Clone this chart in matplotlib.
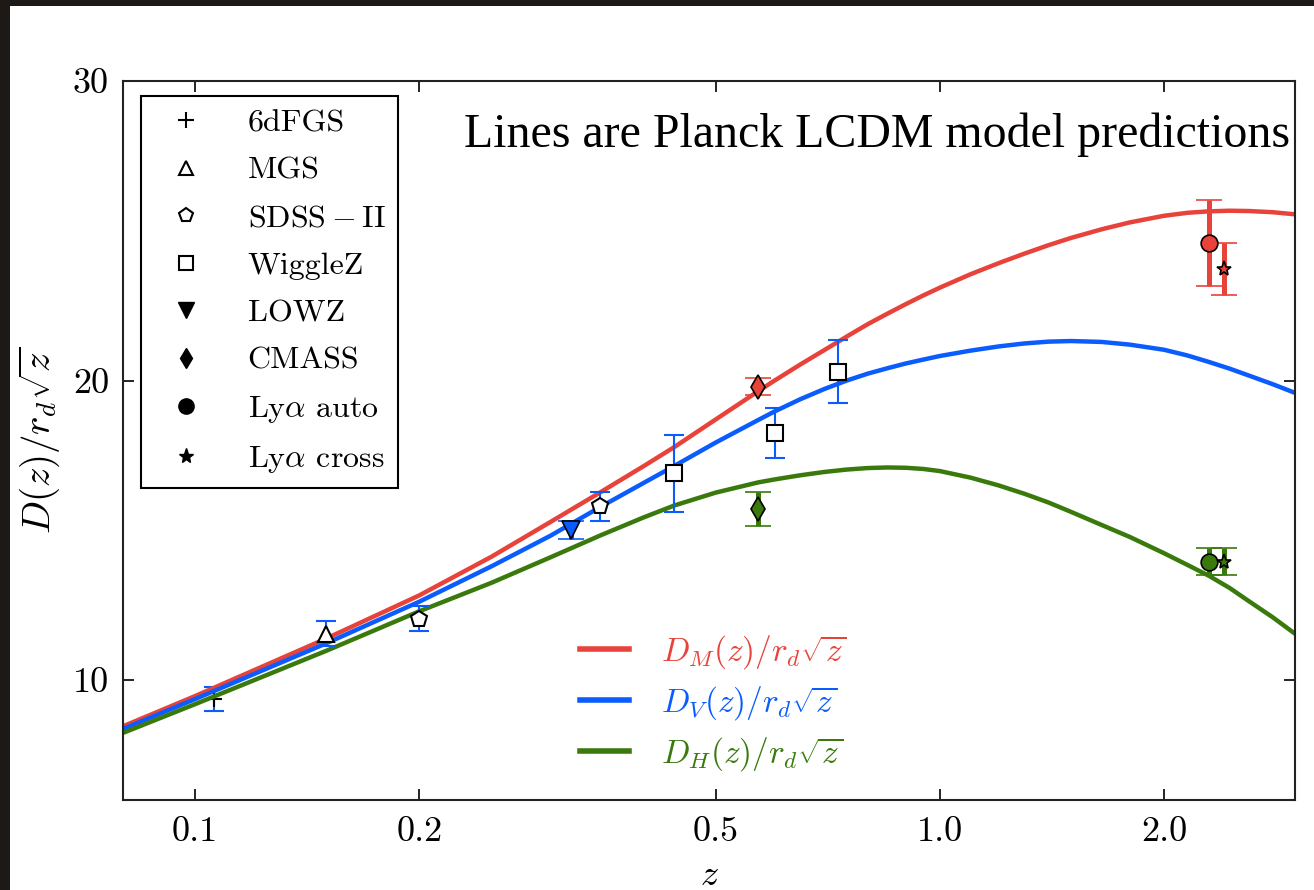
import numpy as np
import matplotlib
matplotlib.use('Agg')
from matplotlib import pylab as plt
from matplotlib.lines import Line2D
from matplotlib.patches import Rectangle
from matplotlib.ticker import FixedLocator, FixedFormatter, NullLocator

plt.rcParams['font.family'] = 'cmr10'
plt.rcParams['mathtext.fontset'] = 'cm'
plt.rcParams['axes.formatter.use_mathtext'] = True

# Planck LCDM model curves
z_model  = [0.08, 0.1, 0.15, 0.2, 0.25, 0.3, 0.35, 0.4, 0.44, 0.5, 0.57, 0.6, 0.65, 0.7,
            0.75, 0.8, 0.85, 0.9, 0.95, 1.0, 1.1, 1.2, 1.3, 1.4, 1.5, 1.65, 1.8, 2.0,
            2.15, 2.3, 2.45, 2.6, 2.8, 3.0]
dm_model = [8.46, 9.47, 11.39, 12.83, 14.12, 15.28, 16.27, 17.14, 17.78, 18.7, 19.64, 20.0,
            20.54, 21.02, 21.47, 21.88, 22.23, 22.55, 22.84, 23.1, 23.55, 23.92, 24.24,
            24.52, 24.76, 25.05, 25.28, 25.5, 25.6, 25.65, 25.67, 25.66, 25.62, 25.55]
dv_model = [8.37, 9.37, 11.23, 12.62, 13.8, 14.82, 15.78, 16.58, 17.15, 17.93, 18.68, 18.97,
            19.38, 19.72, 20.0, 20.23, 20.41, 20.57, 20.7, 20.82, 21.0, 21.14, 21.24,
            21.3, 21.32, 21.29, 21.2, 21.03, 20.84, 20.62, 20.4, 20.17, 19.88, 19.59]
dh_model = [8.24, 9.2, 10.98, 12.3, 13.25, 14.1, 14.83, 15.43, 15.83, 16.26, 16.6, 16.7,
            16.84, 16.95, 17.03, 17.08, 17.1, 17.09, 17.05, 16.98, 16.76, 16.5, 16.22,
            15.93, 15.62, 15.18, 14.78, 14.24, 13.85, 13.48, 13.08, 12.64, 12.1, 11.55]

# BAO measurements
sixdf_z, sixdf_dv, sixdf_err = [0.106], [9.37], [0.41]
mgs_z, mgs_dv, mgs_err = [0.15], [11.55], [0.42]
sdss_z, sdss_dv, sdss_err = [0.2, 0.35], [12.05, 15.8], [0.42, 0.48]
wig_z, wig_dv, wig_err = [0.44, 0.6, 0.73], [16.9, 18.25, 20.3], [1.28, 0.85, 1.05]
lowz_z, lowz_dv, lowz_err = [0.32], [15.0], [0.3]
cmass_z = [0.57]
cmass_dm, cmass_dm_err = [19.8], [0.28]
cmass_dh, cmass_dh_err = [15.7], [0.57]
auto_z = [2.30]
auto_dm, auto_dm_err = [24.6], [1.43]
auto_dh, auto_dh_err = [13.95], [0.45]
cross_z = [2.41]
cross_dm, cross_dm_err = [23.73], [0.87]
cross_dh, cross_dh_err = [13.95], [0.45]

red = '#e8433a'
blue = '#0a5cff'
green = '#3a7a0c'

fig = plt.figure(figsize=(13.14, 8.90), dpi=100)
fig.patch.set_facecolor('#1c1917')
fig.patches.append(Rectangle((10/1314, 0), 1, 884/890, transform=fig.transFigure,
                             facecolor='white', edgecolor='none', zorder=-10))
ax = fig.add_axes([123/1314, 90/890, 1172/1314, 719/890])

ax.plot(z_model, dm_model, color=red, lw=3.2, zorder=2)
ax.plot(z_model, dv_model, color=blue, lw=3.2, zorder=2)
ax.plot(z_model, dh_model, color=green, lw=3.2, zorder=2)

thin = dict(ecolor=blue, elinewidth=1.5, capsize=7.2, capthick=1.5, mec='k', mew=1.5, ls='none')
ax.errorbar(sixdf_z, sixdf_dv, yerr=sixdf_err, fmt='+', color='k', ms=12, zorder=1, **thin)
ax.errorbar(mgs_z, mgs_dv, yerr=mgs_err, fmt='^', mfc='white', ms=11, zorder=4, **thin)
ax.errorbar(sdss_z, sdss_dv, yerr=sdss_err, fmt='p', mfc='white', ms=12, zorder=4, **thin)
ax.errorbar(wig_z, wig_dv, yerr=wig_err, fmt='s', mfc='white', ms=12, zorder=4, **thin)

def thick(z, y, e, m, c, ms):
    ax.errorbar(z, y, yerr=e, fmt=m, ecolor=c, mfc=c, mec='k', mew=1.2, ms=ms,
                elinewidth=3.6, capsize=9.7, capthick=3.6, ls='none', zorder=4)

thick(lowz_z, lowz_dv, lowz_err, 'v', blue, 13)
thick(cmass_z, cmass_dm, cmass_dm_err, 'd', red, 12)
thick(cmass_z, cmass_dh, cmass_dh_err, 'd', green, 12)
thick(auto_z, auto_dm, auto_dm_err, 'o', red, 12)
thick(auto_z, auto_dh, auto_dh_err, 'o', green, 12)
thick(cross_z, cross_dm, cross_dm_err, '*', red, 11)
thick(cross_z, cross_dh, cross_dh_err, '*', green, 11)

ax.set_xscale('log')
ax.set_xlim(0.08, 3.0)
ax.set_ylim(6, 30)
ax.xaxis.set_major_locator(FixedLocator([0.1, 0.2, 0.5, 1.0, 2.0]))
ax.xaxis.set_major_formatter(FixedFormatter(['0.1', '0.2', '0.5', '1.0', '2.0']))
ax.xaxis.set_minor_locator(NullLocator())
ax.set_yticks([10, 20, 30])
ax.set_yticklabels(['10', '20', '30'])
ax.tick_params(direction='in', length=8, width=1.2, top=True, right=True, labelsize=26)
ax.tick_params(axis='x', pad=12)
ax.tick_params(axis='y', pad=10)
for s in ax.spines.values():
    s.set_linewidth(1.5)
    s.set_color('#222222')

ax.set_xlabel('$z$', fontsize=26)
ax.xaxis.set_label_coords(0.5, -0.084)
ax.set_ylabel(r'$D(z)/r_d\sqrt{z}$', fontsize=28)
ax.yaxis.set_label_coords(-0.052, 0.5)

# marker legend
handles = [Line2D([], [], ls='none', marker='+', color='k', ms=12, mew=1.5),
           Line2D([], [], ls='none', marker='^', mfc='white', mec='k', ms=10, mew=1.5),
           Line2D([], [], ls='none', marker='p', mfc='white', mec='k', ms=10, mew=1.5),
           Line2D([], [], ls='none', marker='s', mfc='white', mec='k', ms=10, mew=1.5),
           Line2D([], [], ls='none', marker='v', color='k', ms=11),
           Line2D([], [], ls='none', marker='d', color='k', ms=10),
           Line2D([], [], ls='none', marker='o', color='k', ms=11),
           Line2D([], [], ls='none', marker='*', color='k', ms=11)]
labels = ['6dFGS', 'MGS', r'$\mathrm{SDSS-II}$', 'WiggleZ', 'LOWZ', 'CMASS',
          r'Ly$\alpha$ auto', r'Ly$\alpha$ cross']
leg1 = ax.legend(handles, labels, loc='upper left', bbox_to_anchor=(0.0154, 0.979),
                 borderaxespad=0, fontsize=23, fancybox=False, framealpha=1,
                 edgecolor='k', handletextpad=0.94, labelspacing=0.6, borderpad=0.4)
leg1.get_frame().set_linewidth(1.5)
ax.add_artist(leg1)

# line legend
lh = [Line2D([], [], color=red, lw=4), Line2D([], [], color=blue, lw=4),
      Line2D([], [], color=green, lw=4)]
ll = [r'$D_M(z)/r_d\sqrt{z}$', r'$D_V(z)/r_d\sqrt{z}$', r'$D_H(z)/r_d\sqrt{z}$']
leg2 = ax.legend(lh, ll, loc='upper left', bbox_to_anchor=(0.3645, 0.274), frameon=False,
                 fontsize=24, handlelength=1.45, handletextpad=0.98, labelspacing=0.4)
for t, c in zip(leg2.get_texts(), [red, blue, green]):
    t.set_color(c)

ax.text(0.996, 0.908, 'Lines are Planck LCDM model predictions', transform=ax.transAxes,
        ha='right', va='baseline', fontsize=34.5, family='Liberation Serif')

plt.savefig('out.png', dpi=100, facecolor=fig.get_facecolor())
plt.close()
